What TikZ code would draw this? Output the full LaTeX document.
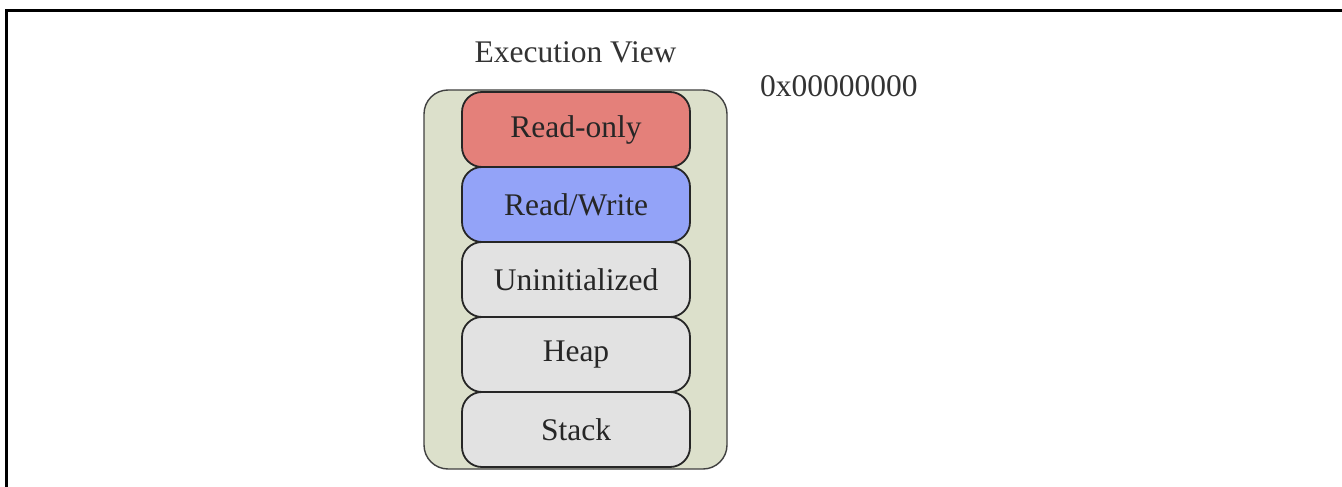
\documentclass[tikz,border=0pt]{standalone}
\usepackage{fontspec}
\setmainfont{Liberation Serif}
\usepackage{xcolor}
\usetikzlibrary{positioning}
\definecolor{procfill}{HTML}{DCE0CB}
\definecolor{rofill}{HTML}{E4807A}
\definecolor{rwfill}{HTML}{93A3F8}
\definecolor{segfill}{HTML}{E2E2E2}
\tikzset{
  procbox/.style={draw=black!75,line width=1.4pt,rounded corners=24pt,fill=procfill,
                  minimum width=303pt,minimum height=379pt},
  seg/.style={draw=black!85,line width=1.8pt,rounded corners=20pt,fill=segfill,
              outer sep=0pt,minimum width=228pt,minimum height=75pt,text=black!85},
  roseg/.style={seg,fill=rofill},
  rwseg/.style={seg,fill=rwfill},
  lbl/.style={text=black!80},
}

\begin{document}
\begin{tikzpicture}[x=1pt,y=-1pt,every node/.style={font=\fontsize{31.5}{36}\selectfont,inner sep=0pt}]
\useasboundingbox (0,0) rectangle (1342,487);
% frame edges
\draw[line width=3pt] (6.5,487) -- (6.5,10.5) -- (1342,10.5);
% process image with its segments
\node[procbox] (proc) at (575.5,279.5) {};
\node[roseg] (ro) at (576,129.5) {Read-only};
\node[rwseg,below=0pt of ro] (rw) {Read/Write};
\node[seg,below=0pt of rw] (bss) {Uninitialized};
\node[seg,below=0pt of bss] (heap) {Heap};
\node[seg,below=0pt of heap] (stack) {Stack};
% labels
\node[lbl,above=26pt of proc.north] (title) {Execution View};
\node[lbl,anchor=west] (addr) at (760,86) {0x00000000};
\end{tikzpicture}
\end{document}
